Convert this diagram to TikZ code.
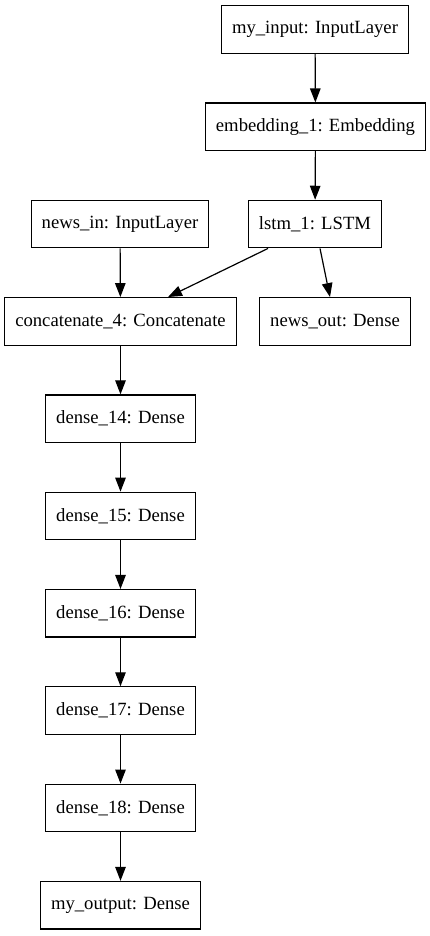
\documentclass[tikz,border=0pt]{standalone}
\usepackage{fontspec}
\setmainfont{Liberation Serif}
\usepackage{tikz}
\usetikzlibrary{arrows.meta}
\usetikzlibrary{positioning}

\begin{document}
\begin{tikzpicture}
[every node/.style={inner sep=0pt},
 layer/.style={rectangle, minimum height=47.5pt, inner xsep=10.5pt, fill=white, line width=1.2pt, draw=black, font=\fontsize{18.67pt}{22pt}\selectfont},
 link/.style={line width=1.2pt, -{Triangle[length=14pt, width=10.5pt]}, color=black}]
\useasboundingbox (0pt, 0pt) rectangle (429pt, -936pt);
\node (1) [layer] at (315.0pt, -29.5pt) {my\_input: InputLayer};
\node (2) [layer] at (315.5pt, -126.8pt) {embedding\_1: Embedding};
\node (3) [layer] at (315.0pt, -224.1pt) {lstm\_1: LSTM};
\node (4) [layer] at (120.0pt, -224.1pt) {news\_in: InputLayer};
\node (5) [layer] at (120.5pt, -321.4pt) {concatenate\_4: Concatenate};
\node (6) [layer] at (335.0pt, -321.4pt) {news\_out: Dense};
\node (7) [layer] at (120.5pt, -418.7pt) {dense\_14: Dense};
\node (8) [layer] at (120.5pt, -516.0pt) {dense\_15: Dense};
\node (9) [layer] at (120.5pt, -613.3pt) {dense\_16: Dense};
\node (10) [layer] at (120.5pt, -710.6pt) {dense\_17: Dense};
\node (11) [layer] at (120.5pt, -807.9pt) {dense\_18: Dense};
\node (12) [layer] at (120.5pt, -905.2pt) {my\_output: Dense};
\draw [link] (1) to (2);
\draw [link] (2) to (3);
\draw [link] ([xshift=-47pt]3.south) to ([xshift=47.5pt]5.north);
\draw [link] ([xshift=5pt]3.south) to ([xshift=-5pt]6.north);
\draw [link] (4) to (5);
\draw [link] (5) to (7);
\draw [link] (7) to (8);
\draw [link] (8) to (9);
\draw [link] (9) to (10);
\draw [link] (10) to (11);
\draw [link] (11) to (12);
\end{tikzpicture}
\end{document}
